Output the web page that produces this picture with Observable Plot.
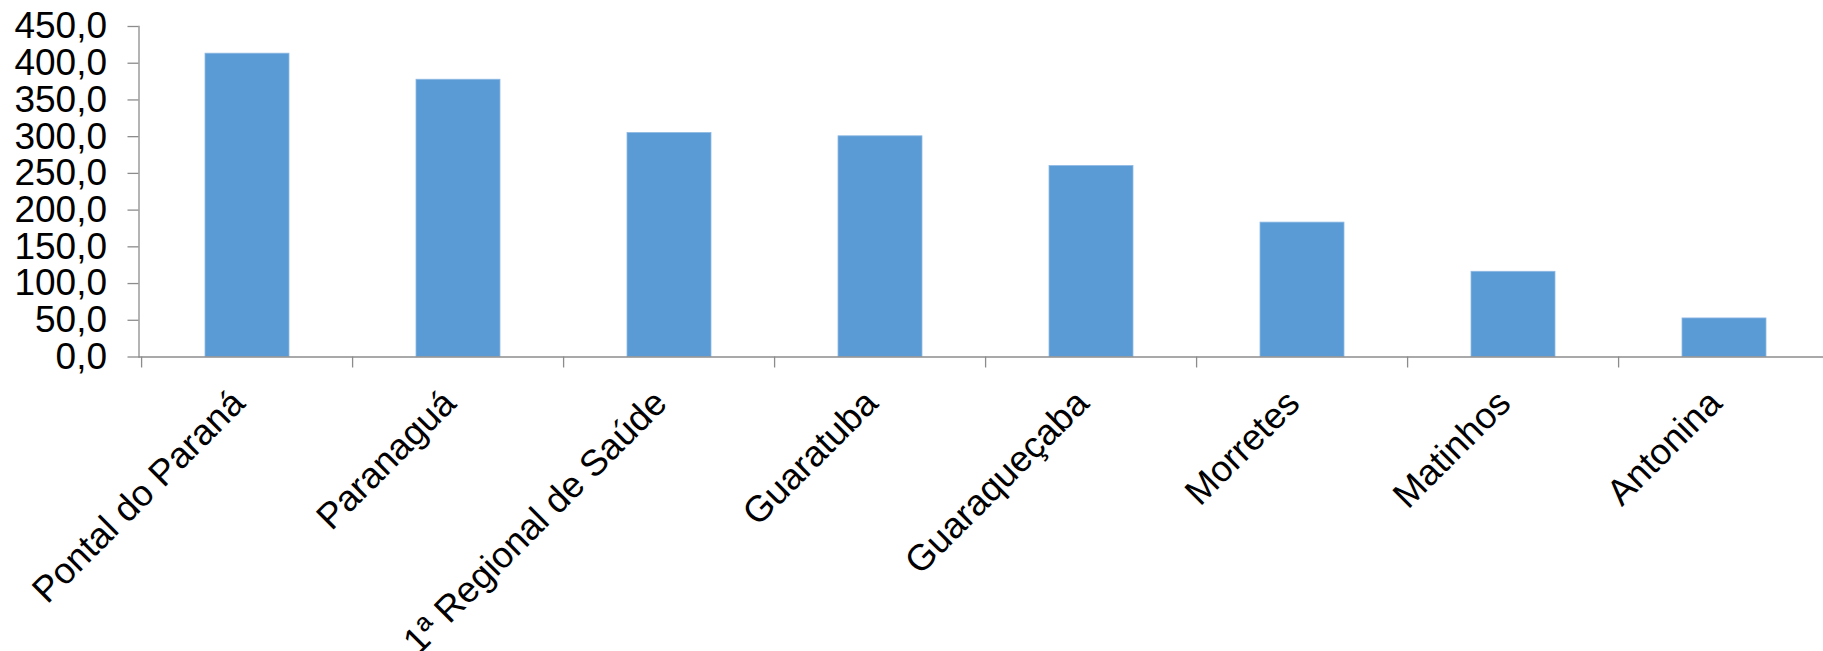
<!DOCTYPE html>
<html>
<head>
<meta charset="utf-8">
<script src="https://cdn.jsdelivr.net/npm/d3@7"></script>
<script src="https://cdn.jsdelivr.net/npm/@observablehq/plot@0.6"></script>
<style>
  html, body { margin: 0; padding: 0; background: #fff; overflow: hidden; }
  #chart svg { display: block; overflow: visible; }
</style>
</head>
<body>
<div id="chart"></div>
<script>
const categories = ["Pontal do Paraná", "Paranaguá", "1ª Regional de Saúde", "Guaratuba", "Guaraqueçaba", "Morretes", "Matinhos", "Antonina"];
const values = [413.0, 377.5, 305.0, 300.5, 260.0, 183.0, 116.0, 52.5];
const yTicks = [0, 50, 100, 150, 200, 250, 300, 350, 400, 450];

const data = categories.map((c, i) => ({category: c, value: values[i]}));

const W = 1823, H = 651;
const marginLeft = 138.5, marginRight = -10, marginTop = 26, marginBottom = 294.5;
const step = (W - marginRight - marginLeft) / categories.length;
const axisColor = "#8c8c8c";
const fmt = d => d.toFixed(1).replace(".", ",");

const chart = Plot.plot({
  width: W,
  height: H,
  marginLeft, marginRight, marginTop, marginBottom,
  style: {fontFamily: "'Liberation Sans', Arial, sans-serif", color: "#000", background: "#fff"},
  x: {domain: categories, paddingInner: 0.6, paddingOuter: 0.3},
  y: {domain: [0, 450]},
  marks: [
    Plot.barY(data, {x: "category", y: "value", fill: "#5b9bd5", stroke: "#8fb9e3", strokeWidth: 0.8}),
    Plot.frame({anchor: "left", stroke: axisColor, strokeWidth: 1.3}),
    Plot.frame({anchor: "bottom", stroke: axisColor, strokeWidth: 1.3}),
    Plot.axisY({ticks: yTicks, tickSize: 11, tickPadding: 21, tickFormat: fmt, fontSize: 37, stroke: axisColor, strokeWidth: 1.3, label: null}),
    Plot.axisX({tickSize: 11, dx: -step / 2, text: null, stroke: axisColor, strokeWidth: 1.3, label: null}),
    Plot.axisX({tickSize: 0, tickPadding: 40, dx: -9, tickRotate: -45, fontSize: 36.5, label: null})
  ]
});
document.getElementById("chart").appendChild(chart);
</script>
</body>
</html>
